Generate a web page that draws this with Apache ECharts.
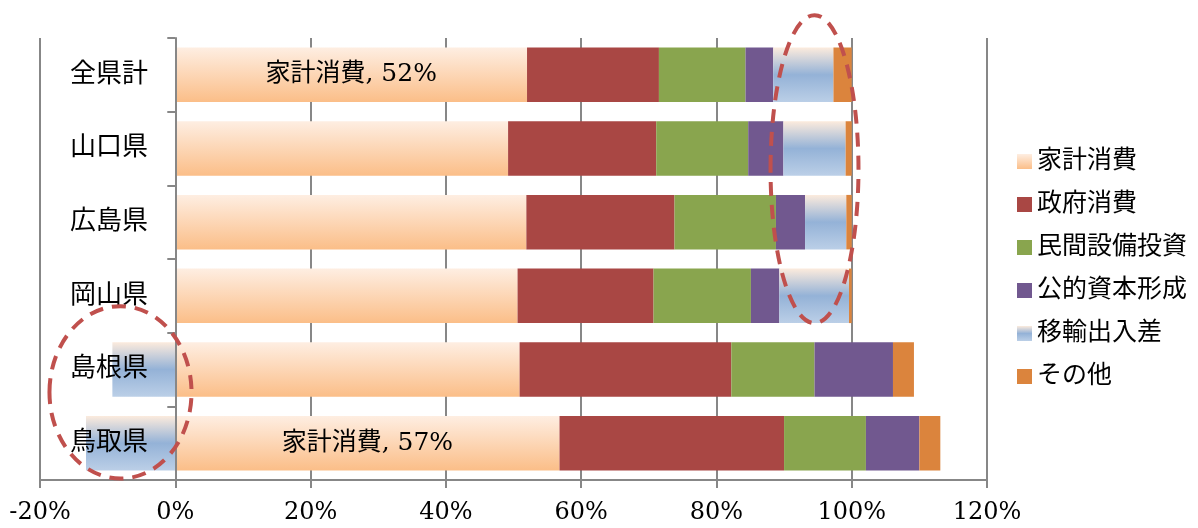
<!DOCTYPE html>
<html>
<head>
<meta charset="utf-8">
<script src="https://cdn.jsdelivr.net/npm/echarts@6/dist/echarts.min.js"></script>
<style>
  html, body { margin: 0; padding: 0; background: #fff; }
  #chart { width: 1198px; height: 528px; }
</style>
</head>
<body>
<div id="chart"></div>
<script>
// 県名（上から）
const prefectures = ['全県計', '山口県', '広島県', '岡山県', '島根県', '鳥取県'];
const seriesNames = ['家計消費', '政府消費', '民間設備投資', '公的資本形成', '移輸出入差', 'その他'];

// 構成比（%）
const household = [52.0, 49.2, 51.9, 50.6, 50.9, 56.8];
const government = [19.5, 21.9, 21.9, 20.1, 31.3, 33.2];
const privateInvest = [12.8, 13.6, 15.0, 14.4, 12.3, 12.1];
const publicCapital = [4.1, 5.2, 4.3, 4.2, 11.6, 7.9];
const netExports = [8.9, 9.2, 6.1, 10.3, -9.3, -13.2];
const others = [2.7, 0.9, 0.8, 0.4, 3.1, 3.1];

// ラベルを表示する県
const labeledIdx = [0, 5];

// 注目の楕円（x: %, y: 県の位置）
const highlightX = [94.5, -8.1];
const highlightY = [1.28, 4.31];
const highlightRx = [6.5, 10.5];
const highlightRy = [2.09, 1.17];

const FONT = "'DejaVu Serif', 'Noto Sans CJK JP', serif";

const chart = echarts.init(document.getElementById('chart'));

const grad = (stops) => new echarts.graphic.LinearGradient(0, 0, 0, 1, stops);
const colors = [
    grad([{ offset: 0, color: '#FEEEE2' }, { offset: 1, color: '#FBBE88' }]),
    '#A94744',
    '#89A54E',
    '#71588F',
    grad([{ offset: 0, color: '#FCEBDD' }, { offset: 0.5, color: '#94B2D7' }, { offset: 1, color: '#BBCFE7' }]),
    '#DB843D'
];
const values = [household, government, privateInvest, publicCapital, netExports, others];

const series = seriesNames.map(function(name, i) {
    return {
        name: name,
        type: 'bar',
        stack: 'total',
        barCategoryGap: '26%',
        itemStyle: { color: colors[i] },
        data: values[i].map(function(v, j) {
            if (i === 0 && labeledIdx.indexOf(j) >= 0) {
                return { value: v, label: { show: true } };
            }
            return v;
        }),
        label: {
            show: false,
            position: 'inside',
            color: '#000',
            fontFamily: FONT,
            fontSize: 25,
            formatter: function(p) { return p.seriesName + ', ' + Math.round(p.value) + '%'; }
        },
        emphasis: { disabled: true }
    };
});

chart.setOption({
    animation: false,
    textStyle: { fontFamily: FONT },
    grid: { left: 40, right: 211, top: 38, bottom: 48, containLabel: false, outerBoundsMode: 'none' },
    legend: {
        orient: 'vertical',
        left: 1012,
        top: 144,
        itemWidth: 15,
        itemHeight: 15,
        itemGap: 18,
        icon: 'rect',
        textStyle: { fontSize: 25, color: '#000', fontFamily: FONT },
        data: seriesNames
    },
    xAxis: {
        type: 'value',
        min: -20,
        max: 120,
        interval: 20,
        axisLine: { show: true, onZero: false, lineStyle: { color: '#878787', width: 2 } },
        axisTick: { show: true, length: 8, lineStyle: { color: '#878787', width: 2 } },
        splitLine: { show: true, lineStyle: { color: '#878787', width: 2 } },
        axisLabel: { fontSize: 24, color: '#000', margin: 21, formatter: '{value}%' }
    },
    yAxis: {
        type: 'category',
        inverse: true,
        z: 5,
        data: prefectures,
        axisLine: { show: true, onZero: true, lineStyle: { color: '#878787', width: 2 } },
        axisTick: { show: true, length: 8, lineStyle: { color: '#878787', width: 2 } },
        splitLine: { show: false },
        axisLabel: { fontSize: 26, color: '#000', margin: -108, align: 'right' }
    },
    series: series
});

// 楕円を軸の座標から配置
const ellipses = highlightX.map(function(x, k) {
    const p0 = chart.convertToPixel({ gridIndex: 0 }, [x, 0]);
    const p1 = chart.convertToPixel({ gridIndex: 0 }, [x + highlightRx[k], 1]);
    const step = p1[1] - p0[1];
    return {
        type: 'ellipse',
        z: 100,
        shape: {
            cx: p0[0],
            cy: p0[1] + highlightY[k] * step,
            rx: p1[0] - p0[0],
            ry: highlightRy[k] * step
        },
        style: { fill: 'none', stroke: '#C0504D', lineWidth: 4, lineDash: [14, 9] },
        silent: true
    };
});
chart.setOption({ graphic: ellipses });

window.addEventListener('resize', function() {
    chart.resize();
});
</script>
</body>
</html>
